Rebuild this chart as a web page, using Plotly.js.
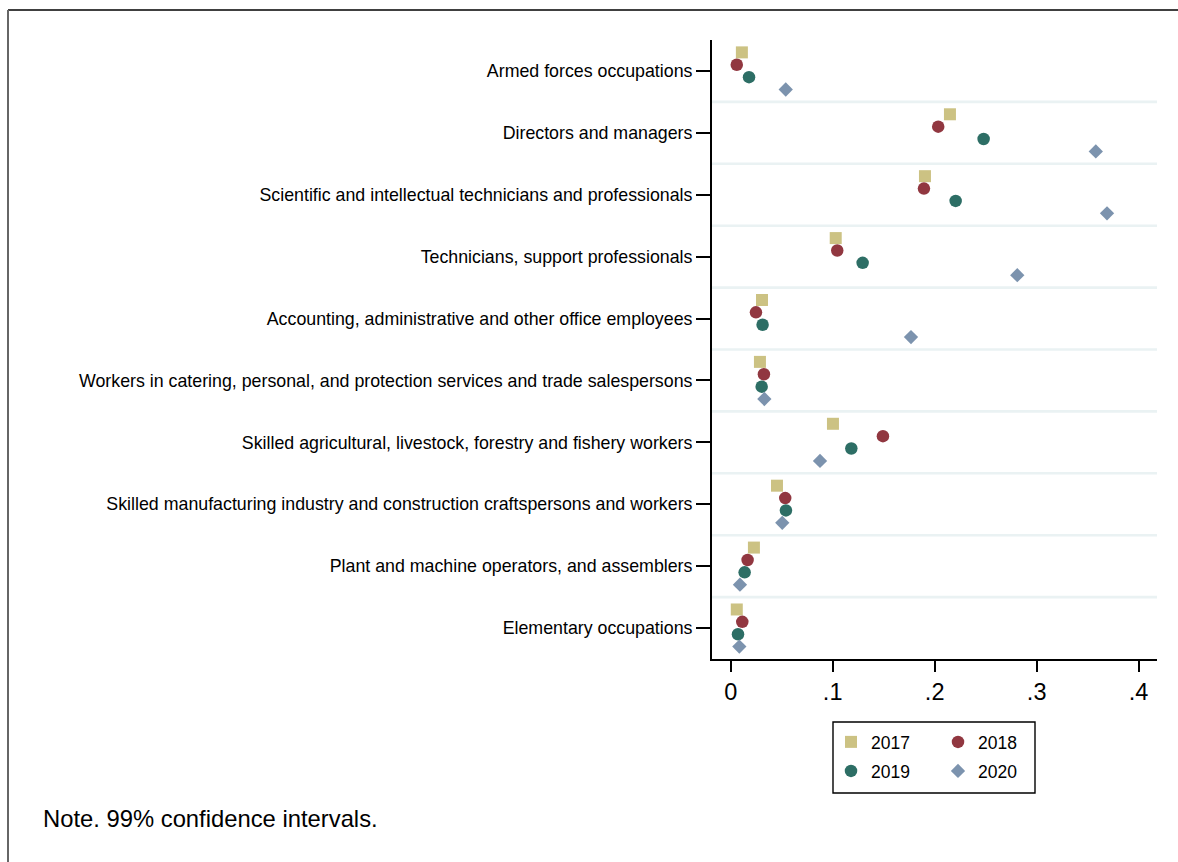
<!DOCTYPE html>
<html>
<head>
<meta charset="utf-8">
<script src="https://cdn.plot.ly/plotly-3.0.1.min.js"></script>
<style>
  html, body { margin: 0; padding: 0; background: #fff; }
  #chart { width: 1178px; height: 862px; }
</style>
</head>
<body>
<div id="chart"></div>
<script>
const categories = [
  "Armed forces occupations",
  "Directors and managers",
  "Scientific and intellectual technicians and professionals",
  "Technicians, support professionals",
  "Accounting, administrative and other office employees",
  "Workers in catering, personal, and protection services and trade salespersons",
  "Skilled agricultural, livestock, forestry and fishery workers",
  "Skilled manufacturing industry and construction craftspersons and workers",
  "Plant and machine operators, and assemblers",
  "Elementary occupations"
];
const years = ["2017", "2018", "2019", "2020"];
const v2017 = [0.011, 0.215, 0.1905, 0.103, 0.0307, 0.0287, 0.1003, 0.0454, 0.0228, 0.006];
const v2018 = [0.006, 0.2035, 0.1895, 0.1045, 0.0248, 0.0326, 0.1493, 0.0535, 0.0166, 0.0114];
const v2019 = [0.018, 0.248, 0.2206, 0.1294, 0.0313, 0.0304, 0.1183, 0.0542, 0.0137, 0.0072];
const v2020 = [0.054, 0.358, 0.369, 0.281, 0.1768, 0.033, 0.0876, 0.0506, 0.0091, 0.0085];
const xTickVals = [0, 0.1, 0.2, 0.3, 0.4];
const xTickText = ["0", ".1", ".2", ".3", ".4"];

const seriesValues = [v2017, v2018, v2019, v2020];
const symbols = ["square", "circle", "circle", "diamond"];
const colors = ["#CCC283", "#913740", "#2D6E65", "#7C93AE"];
const sizes = [12, 12.5, 12.5, 11];
const legendIds = ["legend", "legend2", "legend3", "legend4"];

const BAND = 5;
const traces = seriesValues.map((vals, s) => ({
  type: "scatter",
  mode: "markers",
  name: years[s],
  x: vals,
  y: vals.map((_, i) => i * BAND + s + 1),
  marker: { symbol: symbols[s], color: colors[s], size: sizes[s], line: { width: 0 } },
  legend: legendIds[s],
  hoverinfo: "skip"
}));

// layout geometry (plot area in px)
const W = 1178, H = 862;
const mL = 712, mR = 21, mT = 40, mB = 203;
const pw = W - mL - mR, ph = H - mT - mB;
const px = v => (v - mL) / pw;
const py = v => (H - mB - v) / ph;

const shapes = [];
for (let k = 1; k < categories.length; k++) {
  shapes.push({
    type: "line", xref: "paper", yref: "y",
    x0: 0, x1: 1, y0: k * BAND, y1: k * BAND,
    line: { color: "#EAF2F3", width: 2.6 }, layer: "below"
  });
}
// outer frame (top and left)
shapes.push({ type: "line", xref: "paper", yref: "paper",
  x0: px(8), x1: px(1178), y0: py(10), y1: py(10), line: { color: "#000", width: 1.3 } });
shapes.push({ type: "line", xref: "paper", yref: "paper",
  x0: px(8), x1: px(8), y0: py(10), y1: py(862), line: { color: "#666", width: 2 } });
// legend border
shapes.push({ type: "rect", xref: "paper", yref: "paper",
  x0: px(833), x1: px(1035), y0: py(722), y1: py(793),
  line: { color: "#000", width: 1.4 }, fillcolor: "rgba(0,0,0,0)" });

const legendFont = { family: "Liberation Sans, Arial, sans-serif", size: 17.5, color: "#000" };
const legPos = [[831, 742], [938, 742], [831, 771], [938, 771]];
const legendDefs = {};
legendIds.forEach((id, i) => {
  legendDefs[id] = {
    x: px(legPos[i][0]), y: py(legPos[i][1]),
    xanchor: "left", yanchor: "middle",
    xref: "paper", yref: "paper",
    orientation: "h", bgcolor: "rgba(0,0,0,0)", borderwidth: 0,
    font: legendFont
  };
});

const layout = Object.assign({
  width: W, height: H,
  margin: { l: mL, r: mR, t: mT, b: mB, pad: 0 },
  paper_bgcolor: "#fff", plot_bgcolor: "#fff",
  showlegend: true,
  hovermode: false,
  font: { family: "Liberation Sans, Arial, sans-serif", color: "#000" },
  xaxis: {
    range: [-0.0183, 0.418],
    tickvals: xTickVals, ticktext: xTickText,
    ticks: "outside", ticklen: 11, tickwidth: 2, tickcolor: "#000",
    showline: true, linecolor: "#000", linewidth: 2,
    showgrid: false, zeroline: false,
    tickfont: { size: 23.5, color: "#000" }
  },
  yaxis: {
    range: [categories.length * BAND, 0],
    tickvals: categories.map((_, i) => i * BAND + BAND / 2),
    ticktext: categories,
    ticks: "outside", ticklen: 14, tickwidth: 2, tickcolor: "#000",
    showline: true, linecolor: "#000", linewidth: 2,
    showgrid: false, zeroline: false,
    tickfont: { size: 17.8, color: "#000" }
  },
  shapes: shapes,
  annotations: [{
    xref: "paper", yref: "paper",
    x: px(41), y: py(818), xanchor: "left", yanchor: "middle",
    text: "Note. 99% confidence intervals.", showarrow: false,
    font: { size: 23.8, color: "#000", family: "Liberation Sans, Arial, sans-serif" }
  }]
}, legendDefs);

Plotly.newPlot("chart", traces, layout, { displayModeBar: false, staticPlot: true });
</script>
</body>
</html>
